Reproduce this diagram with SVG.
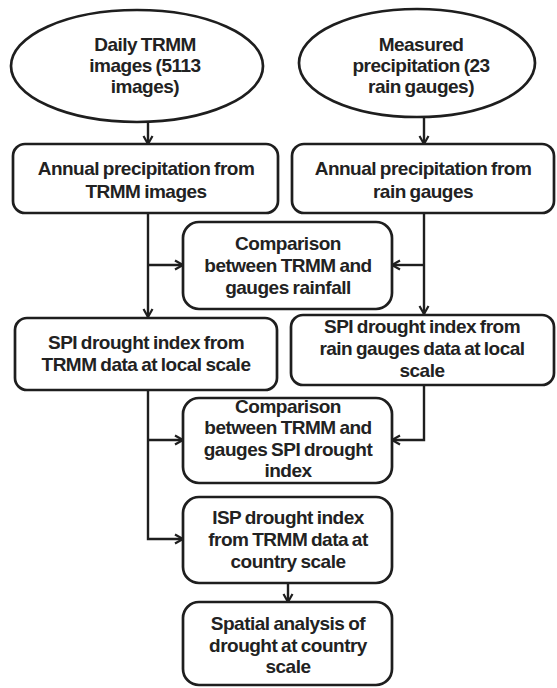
<svg xmlns="http://www.w3.org/2000/svg" width="557" height="688" viewBox="0 0 557 688">
<style>
.n{fill:#fff;stroke:#1e1e1e;stroke-width:2.7}
.t{font-family:"Liberation Sans",Arial,sans-serif;font-weight:bold;font-size:19px;fill:#222;text-anchor:middle;letter-spacing:-0.5px;word-spacing:-1px}
.c{fill:none;stroke:#1e1e1e;stroke-width:2.4}
</style>
<defs>
<marker id="ah" markerUnits="userSpaceOnUse" markerWidth="12" markerHeight="12" refX="9" refY="5" orient="auto" viewBox="0 0 12 10">
<path d="M1,0.5 L9,5 L1,9.5" fill="none" stroke="#1e1e1e" stroke-width="2.2"/>
</marker>
</defs>
<rect width="557" height="688" fill="#fff"/>
<g id="connectors">
<path class="c" d="M148,122 V144" marker-end="url(#ah)"/>
<path class="c" d="M424,117 V144" marker-end="url(#ah)"/>
<path class="c" d="M148,213 V317" marker-end="url(#ah)"/>
<path class="c" d="M148,265 H183" marker-end="url(#ah)"/>
<path class="c" d="M424,213 V314" marker-end="url(#ah)"/>
<path class="c" d="M424,265 H392" marker-end="url(#ah)"/>
<path class="c" d="M148,390 V539 H183" marker-end="url(#ah)"/>
<path class="c" d="M148,440 H183" marker-end="url(#ah)"/>
<path class="c" d="M424,385 V440 H392" marker-end="url(#ah)"/>
<path class="c" d="M288,583 V602" marker-end="url(#ah)"/>
</g>
<g id="daily-trmm">
<ellipse class="n" cx="137" cy="66" rx="126" ry="56"/>
<text class="t" x="145" y="51">Daily TRMM</text>
<text class="t" x="145" y="72">images (5113</text>
<text class="t" x="145" y="93">images)</text>
</g>
<g id="measured-precip">
<ellipse class="n" cx="417" cy="63" rx="118" ry="54"/>
<text class="t" x="421" y="51">Measured</text>
<text class="t" x="421" y="72">precipitation (23</text>
<text class="t" x="421" y="93">rain gauges)</text>
</g>
<g id="annual-trmm">
<rect class="n" x="13" y="144" width="265" height="69" rx="12"/>
<text class="t" x="146" y="175">Annual precipitation from</text>
<text class="t" x="146" y="198">TRMM images</text>
</g>
<g id="annual-gauges">
<rect class="n" x="292" y="144" width="262" height="69" rx="12"/>
<text class="t" x="423" y="175">Annual precipitation from</text>
<text class="t" x="423" y="198">rain gauges</text>
</g>
<g id="comparison-rainfall">
<rect class="n" x="183" y="222" width="209" height="87" rx="16"/>
<text class="t" x="288" y="250">Comparison</text>
<text class="t" x="288" y="272">between TRMM and</text>
<text class="t" x="288" y="294">gauges rainfall</text>
</g>
<g id="spi-trmm">
<rect class="n" x="15" y="318" width="262" height="72" rx="12"/>
<text class="t" x="146" y="349">SPI drought index from</text>
<text class="t" x="146" y="371">TRMM data at local scale</text>
</g>
<g id="spi-gauges">
<rect class="n" x="291" y="315" width="263" height="70" rx="12"/>
<text class="t" x="422" y="333">SPI drought index from</text>
<text class="t" x="422" y="355">rain gauges data at local</text>
<text class="t" x="422" y="377">scale</text>
</g>
<g id="comparison-spi">
<rect class="n" x="183" y="398" width="209" height="85" rx="16"/>
<text class="t" x="288" y="413">Comparison</text>
<text class="t" x="288" y="434">between TRMM and</text>
<text class="t" x="288" y="456">gauges SPI drought</text>
<text class="t" x="288" y="477">index</text>
</g>
<g id="isp-country">
<rect class="n" x="183" y="497" width="209" height="86" rx="16"/>
<text class="t" x="288" y="524">ISP drought index</text>
<text class="t" x="288" y="546">from  TRMM data at</text>
<text class="t" x="288" y="568">country scale</text>
</g>
<g id="spatial-analysis">
<rect class="n" x="183" y="602" width="209" height="83" rx="16"/>
<text class="t" x="288" y="630">Spatial analysis of</text>
<text class="t" x="288" y="652">drought at country</text>
<text class="t" x="288" y="673">scale</text>
</g>
</svg>
